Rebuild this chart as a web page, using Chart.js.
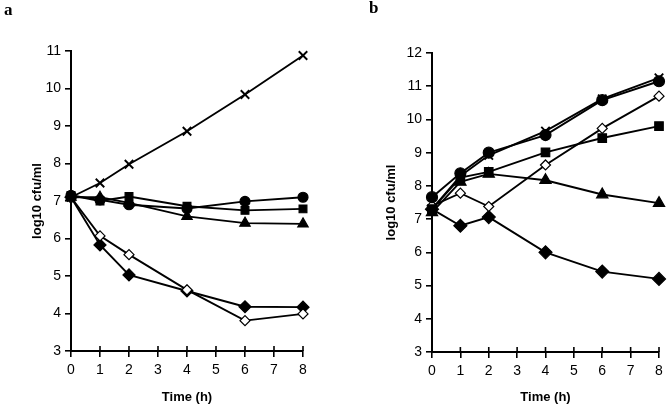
<!DOCTYPE html>
<html>
<head>
<meta charset="utf-8">
<script src="https://cdn.jsdelivr.net/npm/chart.js@4"></script>
<style>
  html, body { margin: 0; padding: 0; background: #fff; }
  #wrap { position: relative; width: 672px; height: 409px; }
  .panel { position: absolute; top: 0; width: 336px; height: 409px; }
  .tag { position: absolute; font-family: "Liberation Serif", "DejaVu Serif", serif; font-weight: bold; font-size: 17px; }
</style>
</head>
<body>
<div id="wrap">
  <div class="panel" style="left:0"><canvas id="chart-a" width="336" height="409"></canvas></div>
  <div class="panel" style="left:336px"><canvas id="chart-b" width="336" height="409"></canvas></div>
  <div class="tag" style="left:4px;top:0px">a</div>
  <div class="tag" style="left:369px;top:-2px">b</div>
</div>
<script>
// time points (h)
const hours = [0, 1, 2, 4, 6, 8];
const xTicks = [0, 1, 2, 3, 4, 5, 6, 7, 8];

// panel a  (log10 cfu/ml)
const aCross   = [7.10, 7.48, 7.98, 8.86, 9.84, 10.88];
const aCircle  = [7.15, 7.03, 6.90, 6.80, 6.99, 7.10];
const aSquare  = [7.15, 7.00, 7.12, 6.86, 6.75, 6.79];
const aTri     = [7.10, 7.10, 6.95, 6.59, 6.41, 6.39];
const aOpenDia = [7.10, 6.07, 5.57, 4.63, 3.81, 3.99];
const aDia     = [7.10, 5.83, 5.03, 4.60, 4.18, 4.17];

// panel b
const bCross   = [7.30, 8.30, 8.92, 9.65, 10.62, 11.25];
const bCircle  = [7.66, 8.38, 9.00, 9.53, 10.58, 11.15];
const bSquare  = [7.30, 8.25, 8.42, 9.01, 9.44, 9.80];
const bTri     = [7.20, 8.12, 8.36, 8.17, 7.74, 7.48];
const bOpenDia = [7.40, 7.78, 7.38, 8.63, 9.73, 10.70];
const bDia     = [7.30, 6.80, 7.06, 6.00, 5.42, 5.20];

const FONT = '"Liberation Sans", Arial, sans-serif';

function series(vals, style, fill, r) {
  return {
    data: hours.map((h, i) => ({ x: h, y: vals[i] })),
    borderColor: '#000',
    borderWidth: 1.9,
    pointStyle: style,
    pointRadius: r,
    pointBorderColor: '#000',
    pointBorderWidth: style === 'crossRot' ? 1.9 : 1.2,
    pointBackgroundColor: fill,
    clip: false,
    tension: 0
  };
}

// inner half of the x tick marks (ticks cross the axis)
const innerTicks = {
  id: 'innerTicks',
  afterDraw(chart) {
    const { ctx, scales: { x, y } } = chart;
    ctx.save();
    ctx.strokeStyle = '#000';
    ctx.lineWidth = 1.6;
    xTicks.forEach(v => {
      const px = x.getPixelForValue(v);
      ctx.beginPath();
      ctx.moveTo(px, y.bottom);
      ctx.lineTo(px, y.bottom - 5);
      ctx.stroke();
    });
    ctx.restore();
  }
};

function makeChart(id, sets, yMax, padLeft, axisW, padTop, padRight, xAxisH) {
  const ctx = document.getElementById(id).getContext('2d');
  return new Chart(ctx, {
    type: 'line',
    data: { datasets: sets },
    options: {
      responsive: false,
      animation: false,
      layout: { padding: { left: padLeft, top: padTop, right: padRight, bottom: 0 } },
      plugins: { legend: { display: false }, tooltip: { enabled: false } },
      scales: {
        x: {
          type: 'linear', min: 0, max: 8,
          afterBuildTicks: s => { s.ticks = xTicks.map(v => ({ value: v })); },
          afterFit: s => { s.height = xAxisH; },
          border: { color: '#000', width: 2 },
          grid: { drawOnChartArea: false, drawTicks: true, tickLength: 6, color: '#000', lineWidth: 1.6 },
          ticks: { color: '#000', font: { family: FONT, size: 14 }, padding: 5, maxRotation: 0 },
          title: { display: true, text: 'Time (h)', color: '#000', font: { family: FONT, size: 13, weight: 'bold' }, padding: { top: 8 } }
        },
        y: {
          min: 3, max: yMax,
          ticks: { stepSize: 1, color: '#000', font: { family: FONT, size: 14 }, padding: 4 },
          afterFit: s => { s.width = axisW; },
          border: { color: '#000', width: 2 },
          grid: { drawOnChartArea: false, drawTicks: true, tickLength: 6, color: '#000', lineWidth: 1.6 },
          title: { display: true, text: 'log10 cfu/ml', color: '#000', font: { family: FONT, size: 13, weight: 'bold' }, padding: 0 }
        }
      }
    },
    plugins: [innerTicks]
  });
}

makeChart('chart-a', [
  series(aCross, 'crossRot', '#000', 6),
  series(aCircle, 'circle', '#000', 5),
  series(aSquare, 'rect', '#000', 5.5),
  series(aTri, 'triangle', '#000', 6),
  series(aOpenDia, 'rectRot', '#fff', 5),
  series(aDia, 'rectRot', '#000', 6)
], 11, 30, 41, 51, 33, 58);

makeChart('chart-b', [
  series(bCross, 'crossRot', '#000', 6),
  series(bCircle, 'circle', '#000', 5.5),
  series(bSquare, 'rect', '#000', 6),
  series(bTri, 'triangle', '#000', 6.5),
  series(bOpenDia, 'rectRot', '#fff', 5),
  series(bDia, 'rectRot', '#000', 6.5)
], 12, 48, 48, 53, 13, 57);
</script>
</body>
</html>
